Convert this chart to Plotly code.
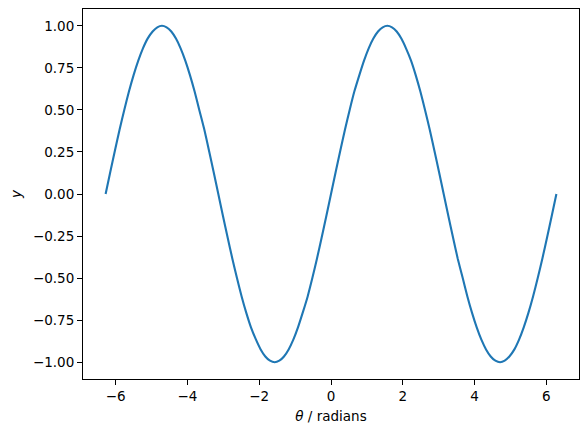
import plotly.graph_objects as go

# theta values (radians), roughly every 0.13
theta = [-6.28, -6.15, -6.02, -5.89, -5.76, -5.63, -5.50, -5.37, -5.24, -5.11,
         -4.97, -4.84, -4.71, -4.58, -4.45, -4.32, -4.19, -4.06, -3.93, -3.80,
         -3.67, -3.53, -3.40, -3.27, -3.14, -3.01, -2.88, -2.75, -2.62, -2.49,
         -2.36, -2.23, -2.09, -1.96, -1.83, -1.70, -1.57, -1.44, -1.31, -1.18,
         -1.05, -0.92, -0.79, -0.65, -0.52, -0.39, -0.26, -0.13, 0.00,
         0.13, 0.26, 0.39, 0.52, 0.65, 0.79, 0.92, 1.05, 1.18, 1.31,
         1.44, 1.57, 1.70, 1.83, 1.96, 2.09, 2.23, 2.36, 2.49, 2.62,
         2.75, 2.88, 3.01, 3.14, 3.27, 3.40, 3.53, 3.67, 3.80, 3.93,
         4.06, 4.19, 4.32, 4.45, 4.58, 4.71, 4.84, 4.97, 5.11, 5.24,
         5.37, 5.50, 5.63, 5.76, 5.89, 6.02, 6.15, 6.28]
y_vals = [0.000, 0.131, 0.259, 0.383, 0.500, 0.609, 0.707, 0.793, 0.866, 0.924,
          0.966, 0.991, 1.000, 0.991, 0.966, 0.924, 0.866, 0.793, 0.707, 0.609,
          0.500, 0.383, 0.259, 0.131, 0.000, -0.131, -0.259, -0.383, -0.500, -0.609,
          -0.707, -0.793, -0.866, -0.924, -0.966, -0.991, -1.000, -0.991, -0.966, -0.924,
          -0.866, -0.793, -0.707, -0.609, -0.500, -0.383, -0.259, -0.131, 0.000,
          0.131, 0.259, 0.383, 0.500, 0.609, 0.707, 0.793, 0.866, 0.924, 0.966,
          0.991, 1.000, 0.991, 0.966, 0.924, 0.866, 0.793, 0.707, 0.609, 0.500,
          0.383, 0.259, 0.131, 0.000, -0.131, -0.259, -0.383, -0.500, -0.609, -0.707,
          -0.793, -0.866, -0.924, -0.966, -0.991, -1.000, -0.991, -0.966, -0.924, -0.866,
          -0.793, -0.707, -0.609, -0.500, -0.383, -0.259, -0.131, 0.000]

fig = go.Figure()
fig.add_trace(go.Scatter(x=theta, y=y_vals, mode='lines',
                         line=dict(color='#1f77b4', width=2.1, shape='spline', smoothing=0.6)))

axis_style = dict(showgrid=False, zeroline=False, showline=True, linecolor='black',
                  linewidth=1.1, mirror=True, ticks='outside', ticklen=5, tickwidth=1.1,
                  tickcolor='black', tickfont=dict(size=13.5, color='black'))

# page body adds an 8px offset, so the figure is a bit smaller than the window
fig.update_layout(
    width=580, height=426,
    margin=dict(l=75, r=9, t=1, b=55),
    paper_bgcolor='white', plot_bgcolor='white',
    font=dict(family='DejaVu Sans', color='black'),
    showlegend=False,
    xaxis=dict(range=[-6.91, 6.91], tickvals=[-6, -4, -2, 0, 2, 4, 6],
               title=dict(text='<i>θ</i> / radians', font=dict(size=13.5), standoff=8),
               **axis_style),
    yaxis=dict(range=[-1.1, 1.1], tickvals=[-1, -0.75, -0.5, -0.25, 0, 0.25, 0.5, 0.75, 1],
               tickformat='.2f',
               title=dict(text='<i>y</i>', font=dict(size=13.5), standoff=8),
               **axis_style),
)

fig.write_html("out.html")
